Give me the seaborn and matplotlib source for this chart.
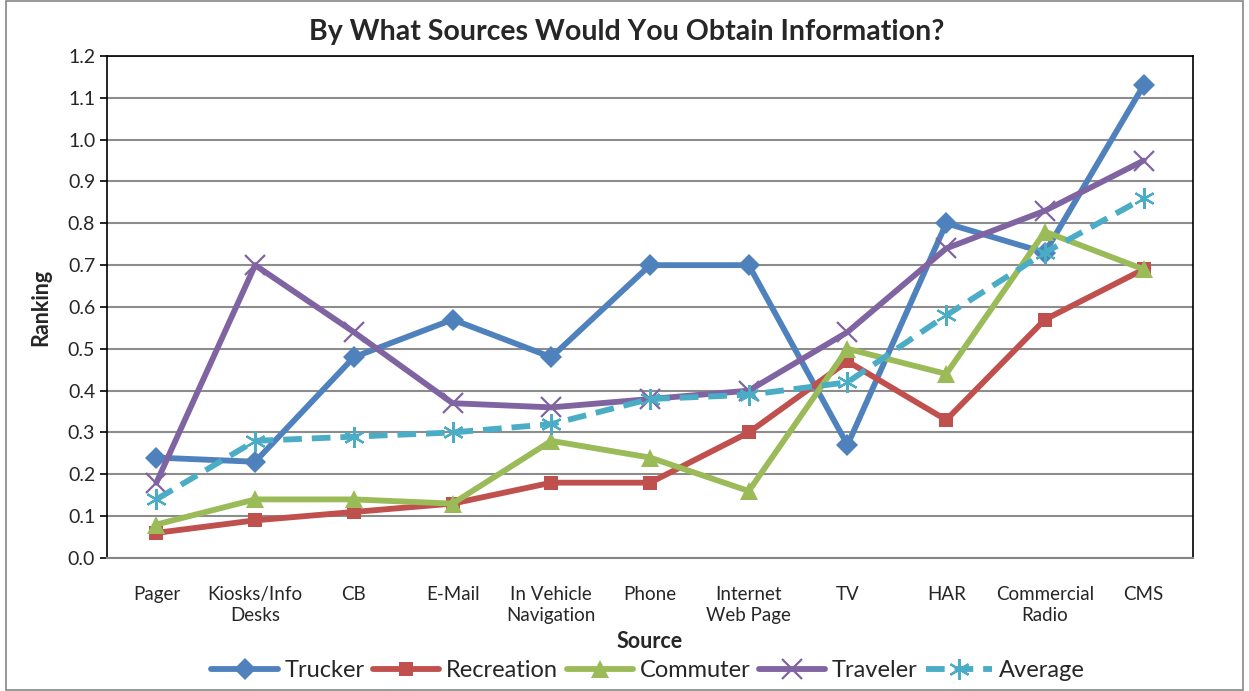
import pandas as pd
import matplotlib
matplotlib.use("Agg")
import matplotlib.pyplot as plt
import seaborn as sns
from matplotlib.patches import Rectangle
from matplotlib.ticker import MultipleLocator, FormatStrFormatter

sns.set_theme(style="white")
plt.rcParams['font.family'] = ['Lato', 'DejaVu Sans']

# Datos
sources = ["Pager", "Kiosks/Info\nDesks", "CB", "E-Mail", "In Vehicle\nNavigation",
           "Phone", "Internet\nWeb Page", "TV", "HAR", "Commercial\nRadio", "CMS"]
trucker = [0.24, 0.23, 0.48, 0.57, 0.48, 0.70, 0.70, 0.27, 0.80, 0.73, 1.13]
recreation = [0.06, 0.09, 0.11, 0.13, 0.18, 0.18, 0.30, 0.47, 0.33, 0.57, 0.69]
commuter = [0.08, 0.14, 0.14, 0.13, 0.28, 0.24, 0.16, 0.50, 0.44, 0.78, 0.69]
traveler = [0.18, 0.70, 0.54, 0.37, 0.36, 0.38, 0.40, 0.54, 0.74, 0.83, 0.95]
average = [0.14, 0.28, 0.29, 0.30, 0.32, 0.38, 0.39, 0.42, 0.58, 0.73, 0.86]

series = {"Trucker": trucker, "Recreation": recreation, "Commuter": commuter,
          "Traveler": traveler, "Average": average}

rows = []
for name, vals in series.items():
    for i, (src, v) in enumerate(zip(sources, vals)):
        rows.append({"Series": name, "pos": i, "Source": src, "Ranking": v})
df = pd.DataFrame(rows)

palette = {"Trucker": "#4F81BD", "Recreation": "#C0504D", "Commuter": "#9BBB59",
           "Traveler": "#8064A2", "Average": "#4BACC6"}
markers = {"Trucker": "D", "Recreation": "s", "Commuter": "^",
           "Traveler": "x", "Average": (6, 2, 0)}
msizes = {"Trucker": 11, "Recreation": 9.5, "Commuter": 13, "Traveler": 14, "Average": 15}

fig = plt.figure(figsize=(12.49, 6.91), dpi=100)
ax = fig.add_axes([0.0857, 0.1925, 0.8695, 0.7265])

for name in series:
    sub = df[df["Series"] == name]
    thin = name in ("Traveler", "Average")
    sns.lineplot(data=sub, x="pos", y="Ranking", ax=ax, color=palette[name],
                 marker=markers[name], markersize=msizes[name],
                 markeredgewidth=1.6 if thin else 0,
                 markeredgecolor=palette[name],
                 linewidth=4.2, label=name, sort=False)

# Average en línea discontinua
for line, name in zip(ax.get_lines(), series):
    if name == "Average":
        line.set_dashes([3.2, 1.7])

ax.set_xlim(-0.5, 10.5)
ax.set_ylim(0, 1.2)
ax.yaxis.set_major_locator(MultipleLocator(0.1))
ax.yaxis.set_major_formatter(FormatStrFormatter("%.1f"))
ax.set_xticks(range(len(sources)))
ax.set_xticklabels(sources, fontsize=13.5, linespacing=1.3)
ax.set_xticks([i + 0.5 for i in range(-1, len(sources))], minor=True)
ax.tick_params(axis="x", which="major", length=0, pad=20)
ax.tick_params(axis="x", which="minor", length=5, color="#868686", width=1.2, direction="out")
ax.tick_params(axis="y", length=5, width=1.2, color="black", direction="out", labelsize=14)
ax.tick_params(left=True, bottom=True)

ax.grid(axis="y", color="#8c8c8c", linewidth=1.5)
ax.set_axisbelow(True)
for s in ["top", "right", "left"]:
    ax.spines[s].set_color("black")
    ax.spines[s].set_linewidth(1.2)
ax.spines["bottom"].set_color("#868686")
ax.spines["bottom"].set_linewidth(1.5)

ax.set_xlabel("Source", fontsize=15.5, fontweight="bold", labelpad=5)
ax.set_ylabel("Ranking", fontsize=15.5, fontweight="bold", labelpad=12)
fig.text(0.502, 0.953, "By What Sources Would You Obtain Information?",
         ha="center", va="center", fontsize=20.5, fontweight="bold")

ax.get_legend().remove()
h, l = ax.get_legend_handles_labels()
fig.legend(h, l, loc="center", bbox_to_anchor=(0.519, 0.03), ncol=5, frameon=False,
           fontsize=17, handlelength=2.8, columnspacing=0.35, handletextpad=0.3)

fig.patches.append(Rectangle((0.005, 0.002), 0.99, 0.996, transform=fig.transFigure,
                             fill=False, edgecolor="#868686", linewidth=1.2))

fig.savefig("out.png", dpi=100)
